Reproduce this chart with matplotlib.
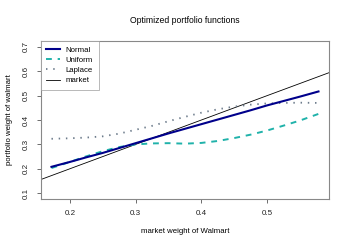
import numpy as np
import matplotlib
matplotlib.use('Agg')
import matplotlib.pyplot as plt

plt.rcParams['font.family'] = ['Liberation Sans', 'DejaVu Sans']

# values
w_market = [0.172, 0.20, 0.225, 0.25, 0.275, 0.30, 0.325, 0.35, 0.375, 0.40,
            0.425, 0.45, 0.475, 0.50, 0.525, 0.55, 0.578]
w_normal = [0.208, 0.228, 0.247, 0.265, 0.285, 0.305, 0.325, 0.345, 0.364, 0.383,
            0.402, 0.421, 0.440, 0.460, 0.478, 0.496, 0.517]
w_uniform = [0.203, 0.228, 0.251, 0.272, 0.289, 0.300, 0.304, 0.305, 0.303, 0.306,
             0.314, 0.326, 0.340, 0.357, 0.377, 0.398, 0.425]
w_laplace = [0.323, 0.325, 0.328, 0.333, 0.344, 0.360, 0.376, 0.395, 0.413, 0.430,
             0.444, 0.455, 0.463, 0.468, 0.470, 0.471, 0.470]

xticks = [0.2, 0.3, 0.4, 0.5]
yticks = [0.1, 0.2, 0.3, 0.4, 0.5, 0.6, 0.7]

fig = plt.figure(figsize=(3.5, 2.5), dpi=100)
ax = fig.add_axes([0.117, 0.204, 0.823, 0.632])

ax.axline((0, 0), slope=1, color='black', lw=0.6, label='market', zorder=1)
ax.plot(w_market, w_normal, color='#00008b', lw=1.5, label='Normal', zorder=3)
ax.plot(w_market, w_uniform, color='#20b2aa', lw=1.4, ls=(0, (3, 3)), label='Uniform', zorder=2)
ax.plot(w_market, w_laplace, color='#6c7b8b', lw=1.3, ls=(0, (0.8, 3.2)), label='Laplace', zorder=2)

ax.set_xlim(0.156, 0.594)
ax.set_ylim(0.076, 0.724)
ax.set_xticks(xticks)
ax.set_xticklabels([str(t) for t in xticks])
ax.set_yticks(yticks)
ax.set_yticklabels([str(t) for t in yticks], rotation=90, va='center')
ax.tick_params(labelsize=5.8, length=3, width=0.6, color='#555555', pad=5,
               labelcolor='#222222')

for s in ax.spines.values():
    s.set_color('#888888')
    s.set_linewidth(0.8)

ax.set_title('Optimized portfolio functions', fontsize=6.2, pad=13)
ax.set_xlabel('market weight of Walmart', fontsize=5.6, labelpad=8)
ax.set_ylabel('portfolio weight of walmart', fontsize=5.6, labelpad=7)

h, l = ax.get_legend_handles_labels()
order = [1, 2, 3, 0]
leg = ax.legend([h[i] for i in order], [l[i] for i in order], loc='upper left',
                fontsize=5.6, frameon=True, fancybox=False, borderaxespad=0,
                handlelength=1.7, handletextpad=0.8, borderpad=0.7, labelspacing=0.35)
leg.get_frame().set_edgecolor('#999999')
leg.get_frame().set_linewidth(0.6)

fig.savefig('out.png', dpi=100)
